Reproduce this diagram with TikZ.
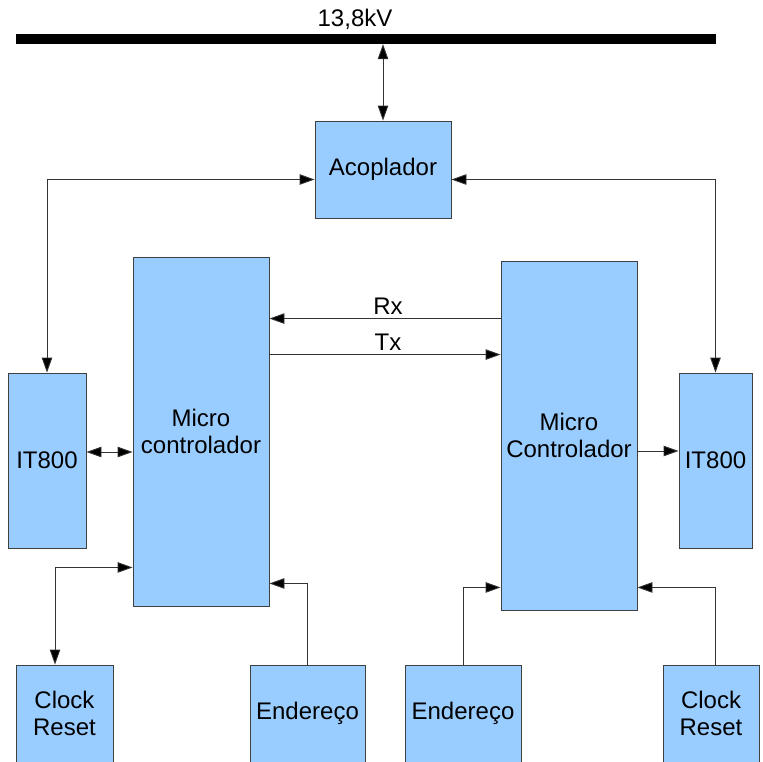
\documentclass[tikz,border=0pt]{standalone}
\usepackage{fontspec}
\setmainfont{Liberation Sans}
\usetikzlibrary{positioning, calc, arrows.meta}
\definecolor{azul}{HTML}{99CCFF}

\begin{document}
\begin{tikzpicture}[x=1pt, y=-1pt, >={Triangle[length=15pt,width=10.5pt,fill=black]},
    bloco/.style={draw=black!75, line width=0.9pt, fill=azul, inner sep=0pt, align=center,
        font=\fontsize{24}{27}\selectfont},
    liga/.style={draw=black!80, line width=0.9pt},
    rotulo/.style={inner sep=0pt, font=\fontsize{24}{27}\selectfont}]
    \useasboundingbox (0,0) rectangle (763,761);
    \clip (0,0) rectangle (763,761);

    % barramento
    \node[fill=black, minimum width=700pt, minimum height=10pt, inner sep=0pt] (bus) at (366,39) {};
    \node[rotulo] (tensao) at (355,19) {13,8kV};

    % blocos
    \node[bloco, minimum width=136pt, minimum height=97pt] (acop) at (383,169.5) {Acoplador};
    \node[bloco, minimum width=136pt, minimum height=349pt] (mcL) at (201,431.5) {Micro\\controlador};
    \node[bloco, minimum width=136pt, minimum height=349pt] (mcR) at (569,435.5) {Micro\\Controlador};
    \node[bloco, minimum width=78pt, minimum height=175pt] (itL) at (47,460.5) {IT800};
    \node[bloco, minimum width=73pt, minimum height=175pt] (itR) at (715.5,460.5) {IT800};
    \node[bloco, minimum width=97pt, minimum height=97pt] (clkL) at (64.5,713.5) {Clock\\Reset};
    \node[bloco, minimum width=115pt, minimum height=97pt] (endL) at (307.5,713.5) {Endereço};
    \node[bloco, minimum width=116pt, minimum height=97pt] (endR) at (463,713.5) {Endereço};
    \node[bloco, minimum width=96pt, minimum height=97pt] (clkR) at (711,713.5) {Clock\\Reset};

    % ligacoes
    \draw[liga, <->] (acop.north) -- (acop.north |- bus.south);
    \draw[liga, <->] ([yshift=-10pt]acop.west) -| (itL.north);
    \draw[liga, <->] ([yshift=-10pt]acop.east) -| (itR.north);

    \draw[liga, <-] ($(mcL.north east)+(0,62)$) coordinate (rx) -- (rx -| mcR.west);
    \draw[liga, ->] ($(mcL.north east)+(0,98)$) coordinate (tx) -- (tx -| mcR.west);
    \node[rotulo] (lblRx) at (388,306) {Rx};
    \node[rotulo] (lblTx) at (388,342) {Tx};

    \draw[liga, <->] ($(itL.east)+(0,-8.5)$) coordinate (a) -- (a -| mcL.west);
    \draw[liga, ->] ($(mcR.east)+(0,15.5)$) coordinate (b) -- (b -| itR.west);

    \draw[liga, <->] ($(clkL.north)+(-9.5,0)$) |- ($(mcL.south west)+(0,-39)$);
    \draw[liga, ->] (endL.north) |- ($(mcL.south east)+(0,-23)$);
    \draw[liga, ->] (endR.north) |- ($(mcR.south west)+(0,-23)$);
    \draw[liga, ->] ($(clkR.north)+(4,0)$) |- ($(mcR.south east)+(0,-23)$);
\end{tikzpicture}
\end{document}
